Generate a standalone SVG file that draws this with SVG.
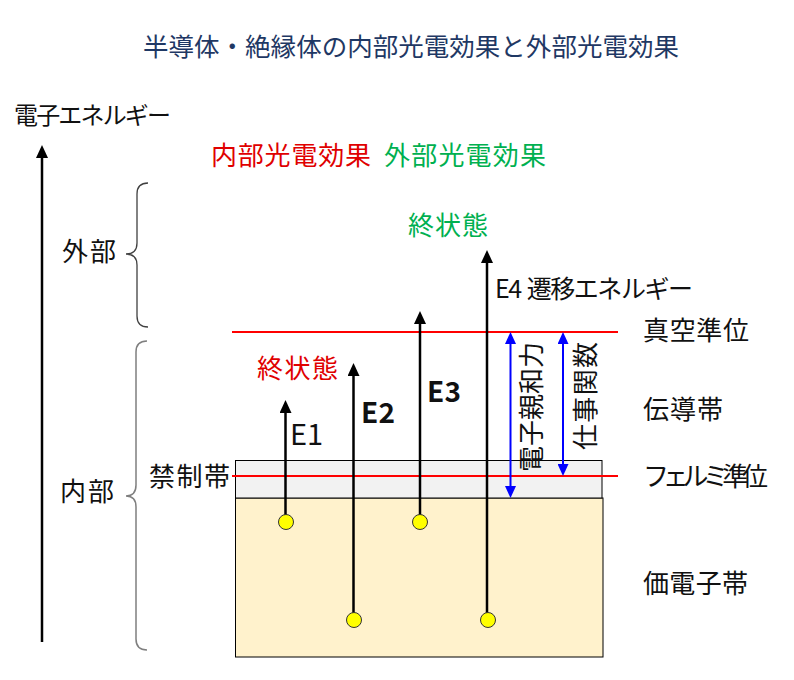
<svg xmlns="http://www.w3.org/2000/svg" width="794" height="680" viewBox="0 0 794 680">
<style>
text{font-family:"Noto Sans CJK JP","Noto Sans",sans-serif;fill:#111;}
.lbl{font-size:26px;}
.red{fill:#E00000;}
.grn{fill:#00B050;}
.ax{stroke:#000;stroke-width:2.5;fill:none;}
.blu{stroke:#0000FF;stroke-width:2;fill:none;}
.lvl{stroke:#FF0000;stroke-width:2.2;}
.dot{fill:#FFFF00;stroke:#333;stroke-width:1;}
</style>
<defs>
<marker id="ah" markerUnits="userSpaceOnUse" markerWidth="13" markerHeight="12" refX="0" refY="6" orient="auto" viewBox="0 0 13 12"><path d="M0,0 L13,6 L0,12 z" fill="#000"/></marker>
<marker id="bh" markerUnits="userSpaceOnUse" markerWidth="12" markerHeight="11" refX="0" refY="5.5" orient="auto-start-reverse" viewBox="0 0 12 11"><path d="M0,0 L12,5.5 L0,11 z" fill="#0000FF"/></marker>
</defs>
<rect width="794" height="680" fill="#fff"/>

<g id="title"><text x="143" y="56" font-size="25.5" style="fill:#1F3864" textLength="536">半導体・絶縁体の内部光電効果と外部光電効果</text></g>
<g id="legend">
<text class="lbl red" x="211" y="165" textLength="160">内部光電効果</text>
<text class="lbl grn" x="384" y="165" textLength="162">外部光電効果</text>
</g>

<g id="axis">
<text x="14" y="124" font-size="24" textLength="157">電子エネルギー</text>
<line class="ax" x1="42" y1="642" x2="42" y2="158"/>
<polygon points="42,145 36,158 48,158" fill="#000"/>
</g>

<g id="brace-outer">
<path d="M148,183 Q137,183 137,194 L137,243 Q137,254 126,254 Q137,254 137,265 L137,316 Q137,327 148,327" fill="none" stroke="#404040" stroke-width="1.3"/>
<text class="lbl" x="62" y="261" textLength="54">外部</text>
</g>
<g id="brace-inner">
<path d="M147,341 Q136,341 136,352 L136,485 Q136,496 126,496 Q136,496 136,507 L136,639 Q136,650 147,650" fill="none" stroke="#7F7F7F" stroke-width="1.5"/>
<text class="lbl" x="60" y="501" textLength="54">内部</text>
</g>

<g id="valence-band">
<rect x="235.5" y="498" width="367.5" height="159" fill="#FFF2CC" stroke="#000" stroke-width="1"/>
<text class="lbl" x="643" y="593" textLength="105">価電子帯</text>
</g>
<g id="band-gap">
<rect x="235.5" y="460.5" width="366.5" height="37.5" fill="#F2F2F2" stroke="#000" stroke-width="1"/>
<text class="lbl" x="149" y="486" textLength="81">禁制帯</text>
</g>
<g id="conduction-band"><text class="lbl" x="643" y="419" textLength="80">伝導帯</text></g>

<g id="vacuum-level">
<line class="lvl" x1="232" y1="332" x2="618" y2="332"/>
<text class="lbl" x="643" y="340" textLength="106">真空準位</text>
</g>
<g id="fermi-level">
<line class="lvl" x1="232" y1="476" x2="618" y2="476"/>
<text class="lbl" x="643" y="486" textLength="125">フェルミ準位</text>
</g>

<g id="connectors">
<line class="ax" x1="285.5" y1="522" x2="285.5" y2="413" marker-end="url(#ah)"/>
<line class="ax" x1="353.5" y1="620" x2="353.5" y2="376" marker-end="url(#ah)"/>
<line class="ax" x1="420" y1="522" x2="420" y2="324" marker-end="url(#ah)"/>
<line class="ax" x1="487" y1="620" x2="487" y2="263" marker-end="url(#ah)"/>
<line class="blu" x1="510.5" y1="344" x2="510.5" y2="486" marker-start="url(#bh)" marker-end="url(#bh)"/>
<line class="blu" x1="563" y1="344" x2="563" y2="464" marker-start="url(#bh)" marker-end="url(#bh)"/>
</g>

<g id="electrons">
<circle class="dot" cx="286" cy="522" r="7.5"/>
<circle class="dot" cx="420" cy="522" r="7.5"/>
<circle class="dot" cx="354" cy="620" r="7.5"/>
<circle class="dot" cx="488" cy="620" r="7.5"/>
</g>

<g id="transition-labels">
<text x="290" y="445" font-size="29" textLength="33">E1</text>
<text x="361" y="423" font-size="28" font-weight="bold" textLength="34">E2</text>
<text x="427" y="402" font-size="28" font-weight="bold" textLength="34">E3</text>
<text x="495" y="298" font-size="25" textLength="198"><tspan>E4</tspan><tspan dx="6">遷移エネルギー</tspan></text>
<text class="lbl red" x="257" y="378" textLength="81">終状態</text>
<text class="lbl grn" x="408" y="235" textLength="80">終状態</text>
</g>

<g id="electron-affinity"><text class="lbl" transform="translate(541,407) rotate(-90)" text-anchor="middle" textLength="130">電子親和力</text></g>
<g id="work-function"><text class="lbl" transform="translate(595,396) rotate(-90)" text-anchor="middle" textLength="108">仕事関数</text></g>
</svg>
